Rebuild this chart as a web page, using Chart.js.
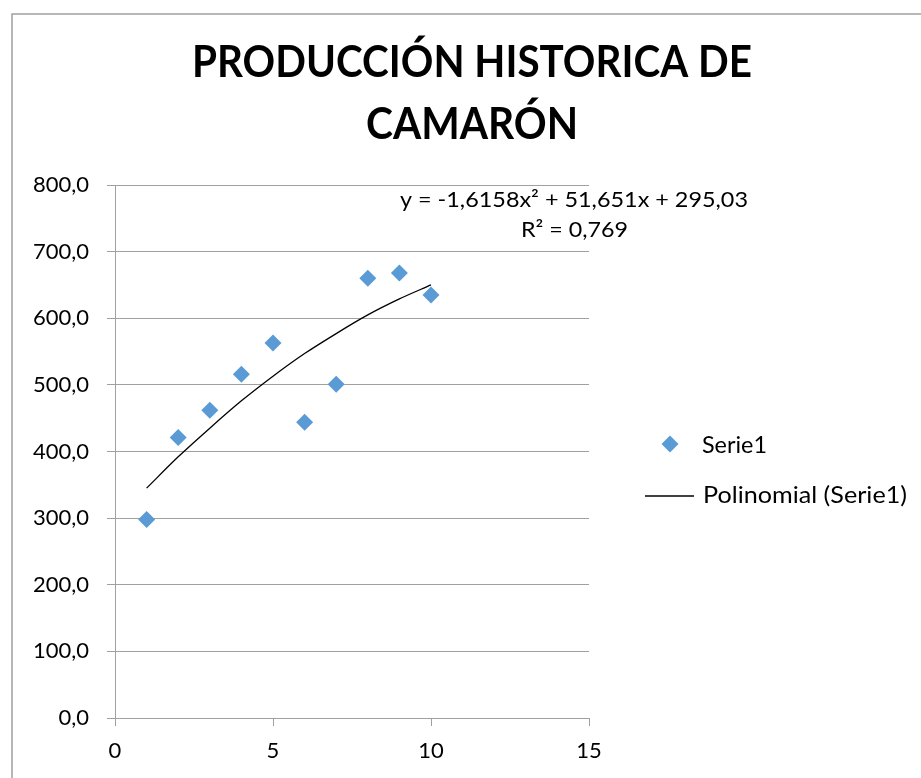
<!DOCTYPE html>
<html><head><meta charset="utf-8">
<script src="https://cdn.jsdelivr.net/npm/chart.js@4.4.1/dist/chart.umd.min.js"></script>
<style>html,body{margin:0;padding:0;background:#fff;}#wrap{width:921px;height:778px;position:relative;}</style>
</head><body><div id="wrap"><canvas id="c" width="921" height="778"></canvas></div>
<script>
const titleLines = ["PRODUCCIÓN HISTORICA DE", "CAMARÓN"];
const xValues = [1, 2, 3, 4, 5, 6, 7, 8, 9, 10];
const serie1 = [298, 421, 462, 516, 563, 444, 501, 660, 668, 635];
const trendValues = [345, 392, 435, 476, 513, 547, 577, 605, 629, 650];
const seriesNames = ["Serie1", "Polinomial (Serie1)"];
const equationLines = ["y = -1,6158x² + 51,651x + 295,03", "R² = 0,769"];
const xTicks = [0, 5, 10, 15];
const yTicks = [0, 100, 200, 300, 400, 500, 600, 700, 800];

const FONT = "Lato, 'Open Sans', sans-serif";
const fmt = v => v.toFixed(1).replace('.', ',');

// draw text with horizontal scaling to fit a target width
function fitText(ctx, text, x, y, width, align) {
  const w = ctx.measureText(text).width;
  const sx = width / w;
  let left = align === 'center' ? x - width / 2 : (align === 'right' ? x - width : x);
  ctx.save();
  ctx.translate(left, y);
  ctx.scale(sx, 1);
  ctx.textAlign = 'left';
  ctx.fillText(text, 0, 0);
  ctx.restore();
}

const decor = {
  id: 'decor',
  beforeDraw(chart) {
    const ctx = chart.ctx;
    ctx.save();
    ctx.fillStyle = '#fff';
    ctx.fillRect(0, 0, chart.width, chart.height);
    ctx.strokeStyle = '#a0a0a0';
    ctx.lineWidth = 1.5;
    ctx.beginPath();
    ctx.moveTo(12, 800); ctx.lineTo(12, 14); ctx.lineTo(930, 14);
    ctx.stroke();
    ctx.restore();
  },
  afterDraw(chart) {
    const ctx = chart.ctx;
    ctx.save();
    ctx.fillStyle = '#000';
    ctx.textBaseline = 'alphabetic';
    ctx.font = "bold 44px " + FONT;
    fitText(ctx, titleLines[0], 472, 77, 560, 'center');
    fitText(ctx, titleLines[1], 472, 139, 212, 'center');
    ctx.font = "22px " + FONT;
    fitText(ctx, equationLines[0], 748, 207, 348, 'right');
    fitText(ctx, equationLines[1], 628, 237, 107, 'right');
    // legend
    ctx.fillStyle = '#5b9bd5';
    ctx.beginPath();
    ctx.moveTo(670, 435.5); ctx.lineTo(678.5, 444); ctx.lineTo(670, 452.5); ctx.lineTo(661.5, 444); ctx.closePath();
    ctx.fill();
    ctx.fillStyle = '#000';
    ctx.font = "23px " + FONT;
    fitText(ctx, seriesNames[0], 702, 453, 65, 'left');
    ctx.strokeStyle = '#000';
    ctx.lineWidth = 1.3;
    ctx.beginPath(); ctx.moveTo(645, 496); ctx.lineTo(694, 496); ctx.stroke();
    fitText(ctx, seriesNames[1], 703, 503, 204, 'left');
    ctx.restore();
  }
};

new Chart(document.getElementById('c'), {
  type: 'scatter',
  data: {
    datasets: [
      {
        label: seriesNames[1],
        data: xValues.map((x, i) => ({x, y: trendValues[i]})),
        showLine: true,
        borderColor: '#000',
        borderWidth: 1.3,
        pointRadius: 0,
        cubicInterpolationMode: 'monotone',
        order: 2
      },
      {
        label: seriesNames[0],
        data: xValues.map((x, i) => ({x, y: serie1[i]})),
        pointStyle: 'rectRot',
        pointRadius: 8.5,
        backgroundColor: '#5b9bd5',
        borderColor: '#5b9bd5',
        borderWidth: 0,
        order: 1
      }
    ]
  },
  options: {
    responsive: false,
    animation: false,
    layout: { padding: { left: 0, right: 332, top: 185, bottom: 0 } },
    plugins: { legend: { display: false }, title: { display: false }, tooltip: { enabled: false } },
    scales: {
      x: {
        type: 'linear', min: 0, max: 15,
        afterFit(s) { s.height = 60; },
        afterBuildTicks(s) { s.ticks = xTicks.map(v => ({value: v})); },
        ticks: { color: '#000', font: { family: FONT, size: 22 }, padding: 12, callback: v => String(v) },
        grid: { drawOnChartArea: false, color: '#a0a0a0', tickLength: 8 },
        border: { color: '#a0a0a0' }
      },
      y: {
        type: 'linear', min: 0, max: 800,
        afterFit(s) { s.width = 115; },
        afterBuildTicks(s) { s.ticks = yTicks.map(v => ({value: v})); },
        ticks: { color: '#000', font: { family: FONT, size: 22 }, padding: 18, callback: v => fmt(v) },
        grid: { color: '#a0a0a0', tickLength: 8 },
        border: { color: '#a0a0a0' }
      }
    }
  },
  plugins: [decor]
});
</script></body></html>
